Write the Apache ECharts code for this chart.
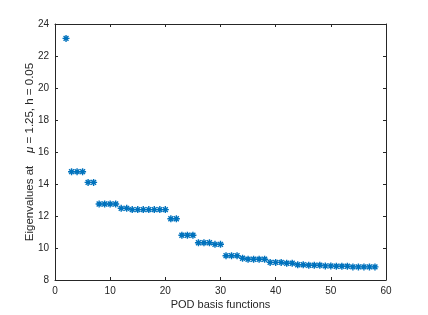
<!DOCTYPE html>
<html>
<head>
<meta charset="utf-8">
<script src="https://cdn.jsdelivr.net/npm/echarts@6/dist/echarts.min.js"></script>
<style>html,body{margin:0;padding:0;background:#fff}#c{width:428px;height:315px}</style>
</head>
<body>
<div id="c"></div>
<script>
const basisIndex = [2,3,4,5,6,7,8,9,10,11,12,13,14,15,16,17,18,19,20,21,22,23,24,25,26,27,28,29,30,31,32,33,34,35,36,37,38,39,40,41,42,43,44,45,46,47,48,49,50,51,52,53,54,55,56,57,58];
const eigenvalues = [23.1,14.77,14.77,14.77,14.1,14.1,12.75,12.75,12.75,12.75,12.48,12.48,12.4,12.4,12.4,12.4,12.4,12.4,12.4,11.83,11.83,10.8,10.8,10.8,10.33,10.33,10.33,10.23,10.23,9.52,9.52,9.52,9.36,9.3,9.3,9.3,9.3,9.1,9.1,9.1,9.05,9.05,8.95,8.95,8.92,8.92,8.92,8.88,8.88,8.86,8.86,8.86,8.82,8.82,8.82,8.82,8.82];
const xTicks = [0,10,20,30,40,50,60];
const yTicks = [8,10,12,14,16,18,20,22,24];
const xTitle = 'POD basis functions';
const yTitle = 'Eigenvalues at';
const yTitleParam = ' = 1.25, h = 0.05';

const font = 'Liberation Sans, Arial, sans-serif';
const axisCol = '#262626';
const blue = '#0072BD';
const chart = echarts.init(document.getElementById('c'), null, {renderer:'canvas'});
const baseX = {
  type:'value', min:xTicks[0], max:xTicks[xTicks.length-1], interval:10,
  axisLine:{show:true, onZero:false, lineStyle:{color:axisCol,width:1}},
  axisTick:{show:true, inside:true, length:3, lineStyle:{color:axisCol}},
  splitLine:{show:false}
};
const baseY = {
  type:'value', min:yTicks[0], max:yTicks[yTicks.length-1], interval:2,
  axisLine:{show:true, onZero:false, lineStyle:{color:axisCol,width:1}},
  axisTick:{show:true, inside:true, length:3, lineStyle:{color:axisCol}},
  splitLine:{show:false}
};
chart.setOption({
  animation:false,
  grid:{left:55, right:42, top:24, bottom:35, containLabel:false},
  xAxis:[
    Object.assign({}, baseX, {position:'bottom',
      axisLabel:{color:axisCol, fontSize:10, fontFamily:font, margin:6},
      name:xTitle, nameLocation:'middle', nameGap:19, nameMoveOverlap:false,
      nameTextStyle:{color:axisCol, fontSize:11, fontFamily:font}}),
    Object.assign({}, baseX, {position:'top', axisLabel:{show:false}})
  ],
  yAxis:[
    Object.assign({}, baseY, {position:'left',
      axisLabel:{color:axisCol, fontSize:10, fontFamily:font, margin:6},
      name:'{a|' + yTitle + '}    {m|μ}{a|' + yTitleParam + '}', nameLocation:'middle', nameGap:19, nameRotate:90, nameMoveOverlap:false,
      nameTextStyle:{color:axisCol, fontSize:11.5, fontFamily:font,
        rich:{a:{color:axisCol, fontSize:11.5, fontFamily:font}, m:{color:axisCol, fontSize:11.5, fontFamily:font, fontStyle:'italic'}}}}),
    Object.assign({}, baseY, {position:'right', axisLabel:{show:false}})
  ],
  series:[{
    type:'scatter',
    data: basisIndex.map((x,i)=>[x, eigenvalues[i]]),
    symbol:'path://M0,-1L0,1M-1,0L1,0M-0.7,-0.7L0.7,0.7M-0.7,0.7L0.7,-0.7',
    symbolSize:7,
    itemStyle:{color:'none', borderColor:blue, borderWidth:1.4, opacity:1}
  }]
});
</script>
</body>
</html>
